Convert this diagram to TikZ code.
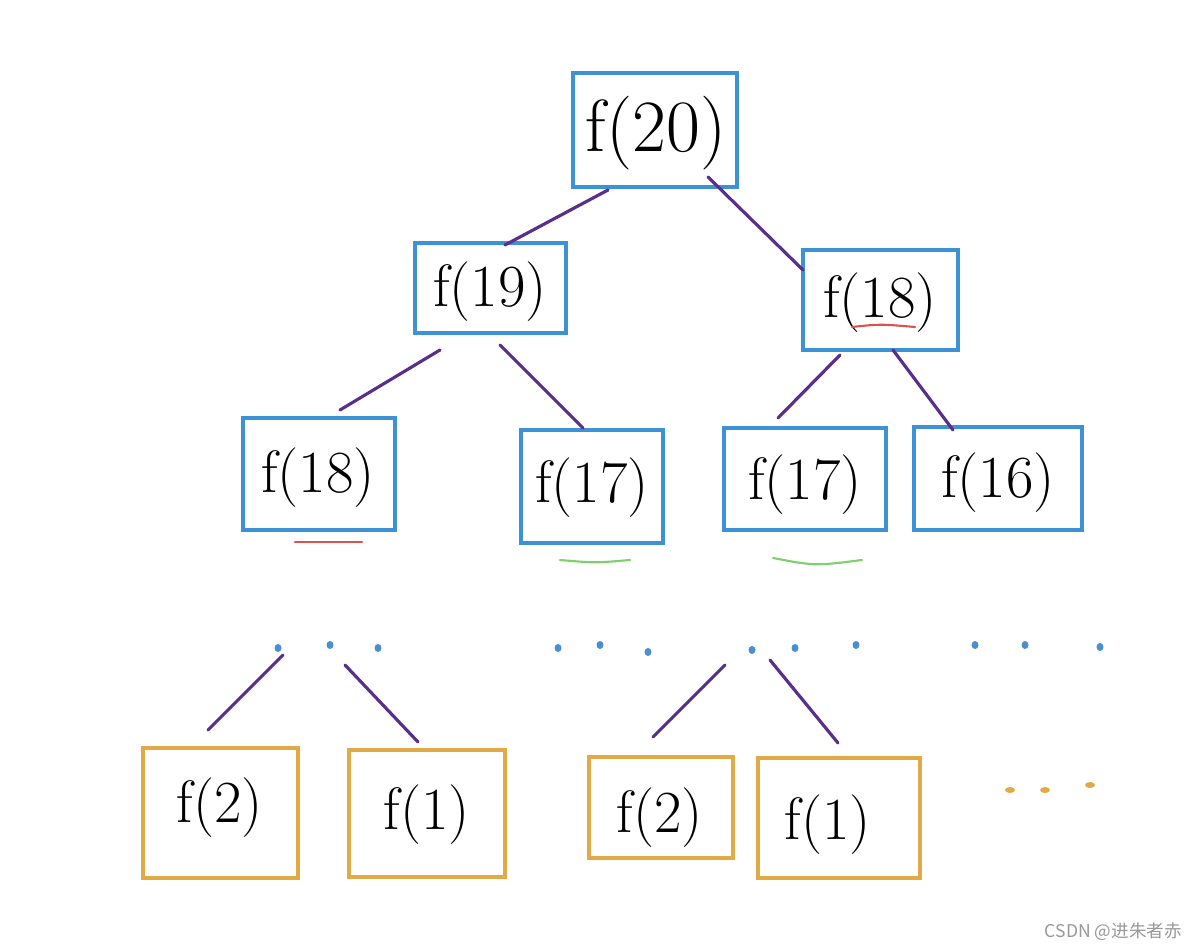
\documentclass[tikz,border=0pt]{standalone}
\usepackage{fontspec}
\newfontfamily\cjk{Noto Sans CJK SC}
\definecolor{bluebox}{HTML}{3D92D6}
\definecolor{orangebox}{HTML}{E2AA45}
\definecolor{edgec}{HTML}{5A2F8C}
\definecolor{dotblue}{HTML}{4A90D0}
\definecolor{redline}{HTML}{D9534F}
\definecolor{greenline}{HTML}{7ED06A}
\begin{document}
\begin{tikzpicture}[x=0.02cm,y=-0.02cm,
  bbox/.style={draw=bluebox,line width=1.8pt},
  obox/.style={draw=orangebox,line width=1.8pt},
  lbl/.style={font=\fontsize{34}{38}\selectfont},
  edge/.style={draw=edgec,line width=1.8pt,line cap=round},
  uline/.style={line width=1.2pt,line cap=round},
  dot/.style={fill=dotblue,draw=none},
  odot/.style={fill=orangebox,draw=none}]
\fill[white] (0,0) rectangle (1200,952);
\useasboundingbox (0,0) rectangle (1200,952);
% blue boxes
\draw[bbox] (573,73) rectangle (737,187);
\node[lbl,font=\fontsize{42}{46}\selectfont] (f20) at (656,133) {f(20)};
\draw[bbox] (415,243) rectangle (566,333);
\node[lbl] (f19) at (490,292) {f(19)};
\draw[bbox] (803,250) rectangle (958,350);
\node[lbl] (f18r) at (880,303) {f(18)};
\draw[bbox] (243,418) rectangle (395,530);
\node[lbl] (f18l) at (318,478) {f(18)};
\draw[bbox] (521,430) rectangle (663,543);
\node[lbl] (f17a) at (592,488) {f(17)};
\draw[bbox] (724,428) rectangle (886,530);
\node[lbl] (f17b) at (805,485) {f(17)};
\draw[bbox] (914,427) rectangle (1082,530);
\node[lbl] (f16) at (998,483) {f(16)};
% orange boxes
\draw[obox] (143,748) rectangle (298,878);
\node[lbl] (f2a) at (220,808) {f(2)};
\draw[obox] (349,750) rectangle (505,877);
\node[lbl] (f1a) at (427,815) {f(1)};
\draw[obox] (589,757) rectangle (733,858);
\node[lbl] (f2b) at (660,818) {f(2)};
\draw[obox] (758,758) rectangle (920,878);
\node[lbl] (f1b) at (828,825) {f(1)};
% connector end points
\coordinate (a1) at (608,190); \coordinate (a2) at (505,245);
\coordinate (b1) at (708,177); \coordinate (b2) at (803,270);
\coordinate (c1) at (440,350); \coordinate (c2) at (340,410);
\coordinate (d1) at (500,345); \coordinate (d2) at (583,428);
\coordinate (e1) at (840,355); \coordinate (e2) at (778,418);
\coordinate (g1) at (893,350); \coordinate (g2) at (953,430);
\coordinate (h1) at (283,655); \coordinate (h2) at (208,730);
\coordinate (i1) at (345,665); \coordinate (i2) at (418,742);
\coordinate (j1) at (725,665); \coordinate (j2) at (653,737);
\coordinate (k1) at (770,660); \coordinate (k2) at (838,743);
\foreach \p/\q in {a1/a2,b1/b2,c1/c2,d1/d2,e1/e2,g1/g2,h1/h2,i1/i2,j1/j2,k1/k2}
  \draw[edge] (\p) -- (\q);
% underlines
\draw[uline,redline] (295,542) -- (362,542);
\draw[uline,redline] (852,327) .. controls (880,324) .. (915,327);
\draw[uline,greenline] (560,560) .. controls (595,563) .. (630,560);
\draw[uline,greenline] (773,558) .. controls (815,566) .. (862,560);
% blue scribble dots
\foreach \x/\yy in {278/648,330/645,378/648,558/648,600/645,648/652,752/650,795/648,856/645,975/645,1025/645,1100/647}
  \fill[dot] (\x,\yy) ellipse (3.5 and 4);
% orange dots
\foreach \x/\yy in {1010/790,1045/790,1090/785}
  \fill[odot] (\x,\yy) ellipse (5 and 3);
% watermark
\node[text=gray!80,font=\cjk\fontsize{10}{12}\selectfont,anchor=east] (wm) at (1188,932) {CSDN @进朱者赤};
\end{tikzpicture}
\end{document}
